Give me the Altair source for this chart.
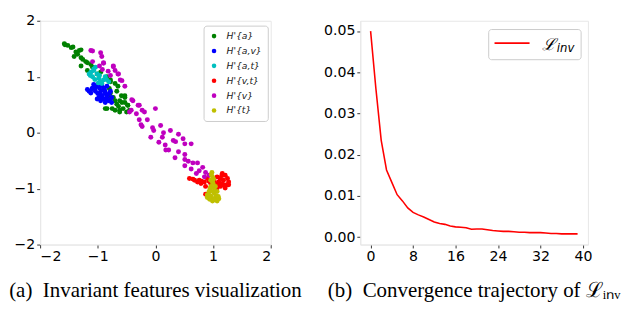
import altair as alt
import pandas as pd

# ---------------- data ----------------
categories = ["H'{a}", "H'{a,v}", "H'{a,t}", "H'{v,t}", "H'{v}", "H'{t}"]
colors = ["#008000", "#0000ff", "#00bfbf", "#ff0000", "#bf00bf", "#bfbf00"]

pts_a = [(-1.58, 1.59), (-1.46, 1.52), (-1.38, 1.44), (-1.29, 1.34), (-1.21, 1.27), (-1.32, 1.47),
         (-1.57, 1.57), (-1.43, 1.53), (-1.29, 1.48), (-1.41, 1.36), (-1.26, 1.31), (-1.18, 1.25),
         (-1.29, 1.19), (-1.09, 1.17), (-1.18, 1.11), (-1.01, 1.05), (-0.84, 1.00), (-0.78, 0.91),
         (-0.70, 0.88), (-0.67, 0.74), (-0.78, 0.71), (-0.73, 0.63), (-0.59, 0.66), (-0.62, 0.57),
         (-0.53, 0.54), (-0.67, 0.51), (-0.48, 0.49), (-0.84, 0.43), (-0.70, 0.40), (-0.62, 0.37),
         (-0.50, 0.37), (-0.56, 0.43), (-0.53, 0.63), (-0.78, 0.94), (-0.65, 0.83), (-0.53, 0.66),
         (-0.70, 0.57), (-0.48, 0.49), (-0.62, 0.40), (-0.75, 0.43), (-0.87, 0.43), (-0.45, 0.40),
         (-0.58, 0.54), (-0.82, 0.66), (-0.80, 0.79), (-1.52, 1.56), (-1.35, 1.40), (-1.12, 1.22),
         (-0.95, 1.08), (-0.64, 0.47)]

pts_av = [(-1.18, 0.77), (-1.09, 0.80), (-1.01, 0.83), (-0.93, 0.85), (-0.84, 0.83), (-1.04, 0.74),
          (-0.95, 0.74), (-0.87, 0.71), (-0.78, 0.74), (-0.98, 0.63), (-0.90, 0.60), (-0.81, 0.57),
          (-0.95, 0.57), (-0.76, 0.63), (-1.12, 0.71), (-1.07, 0.86), (-0.90, 0.80), (-0.84, 0.66),
          (-1.01, 0.60), (-0.87, 0.54), (-0.76, 0.54), (-0.95, 0.68), (-1.15, 0.74), (-1.05, 0.80),
          (-0.97, 0.80), (-0.88, 0.76), (-0.80, 0.70), (-0.92, 0.66), (-1.00, 0.70), (-0.85, 0.60),
          (-0.95, 0.60), (-0.78, 0.60), (-1.10, 0.78), (-0.99, 0.86)]

pts_at = [(-1.15, 1.05), (-1.07, 1.11), (-1.09, 1.00), (-0.98, 0.97), (-0.90, 0.94), (-0.81, 0.91),
          (-1.01, 1.05), (-0.95, 0.91), (-1.04, 1.17), (-1.12, 1.08), (-0.87, 1.00), (-0.93, 0.88),
          (-1.13, 1.02), (-1.05, 0.95), (-0.97, 1.02), (-0.85, 0.95), (-0.99, 0.89), (-1.07, 1.14)]

pts_vt = [(0.59, -0.82), (0.68, -0.85), (0.76, -0.85), (0.85, -0.88), (0.79, -0.91), (0.87, -0.96),
          (0.90, -0.82), (0.96, -0.91), (1.07, -0.79), (1.16, -0.73), (1.21, -0.76), (1.27, -0.88),
          (1.24, -0.93), (1.13, -0.96), (1.18, -0.85), (1.10, -0.88), (1.21, -0.99), (1.07, -0.99),
          (0.87, -1.10), (1.16, -0.91), (1.04, -0.91), (0.73, -0.88), (0.65, -0.83), (0.80, -0.87),
          (0.93, -0.87), (1.12, -0.82), (1.25, -0.82), (1.20, -0.94), (1.10, -0.93), (1.15, -0.77),
          (1.27, -0.93), (1.02, -0.86)]

pts_v = [(-1.09, 1.46), (-0.95, 1.43), (-0.93, 1.36), (-0.90, 1.24), (-0.97, 1.19), (-0.73, 1.19),
         (-0.70, 1.11), (-0.64, 1.05), (-0.78, 1.02), (-0.61, 0.94), (-0.53, 0.83), (-0.39, 0.57),
         (-0.28, 0.49), (-0.42, 0.40), (-0.23, 0.40), (-0.33, 0.34), (-0.14, 0.23), (-0.25, 0.14),
         (0.00, 0.43), (-0.05, 0.09), (0.09, 0.13), (-0.03, 0.04), (0.14, 0.00), (0.26, 0.04),
         (-0.08, -0.08), (0.12, -0.08), (0.40, -0.03), (0.31, -0.14), (0.06, -0.17), (0.48, -0.11),
         (0.17, -0.22), (0.62, -0.20), (0.23, -0.31), (0.40, -0.34), (0.51, -0.39), (0.34, -0.45),
         (0.57, -0.51), (0.65, -0.54), (0.73, -0.54), (0.51, -0.59), (0.62, -0.65), (0.76, -0.68),
         (0.71, -0.73), (0.82, -0.62), (0.87, -0.71), (0.93, -0.76), (0.85, -0.79), (0.51, -0.48),
         (-1.12, 1.47), (-0.90, 1.25), (-0.73, 1.18), (-0.82, 1.10), (-0.65, 1.05), (-0.58, 0.93),
         (-0.41, 0.59), (-0.45, 0.37), (-1.09, 1.27), (-0.92, 1.13), (-0.30, 0.49), (-0.19, 0.37),
         (-0.28, 0.23), (-0.23, 0.11), (0.18, -0.31), (0.35, -0.16), (0.51, -0.20)]

pts_t = [(0.98, -0.71), (0.99, -0.79), (0.96, -0.85), (1.00, -0.91), (0.96, -0.96), (1.02, -0.99),
         (0.93, -1.05), (1.02, -1.08), (1.07, -1.05), (0.96, -1.13), (0.90, -1.16), (1.04, -1.16),
         (1.10, -1.18), (0.99, -1.22), (1.07, -1.22), (0.90, -1.11), (0.99, -0.88), (1.04, -0.96),
         (0.97, -0.75), (1.01, -0.83), (0.95, -1.00), (1.00, -1.05), (0.93, -1.12), (1.05, -1.13),
         (0.97, -1.18), (1.09, -1.14), (1.02, -1.20), (0.94, -1.19)]

scatter_ticks = [-2, -1, 0, 1, 2]

epochs = list(range(40))
loss = [0.0500, 0.0360, 0.0235, 0.0163, 0.0133, 0.0103, 0.0088, 0.0071, 0.0060, 0.0054,
        0.0049, 0.0043, 0.0037, 0.0033, 0.0031, 0.0027, 0.0025, 0.0024, 0.0023, 0.0019,
        0.0020, 0.0020, 0.0018, 0.0016, 0.0015, 0.0014, 0.0014, 0.0013, 0.0012, 0.0012,
        0.0011, 0.0011, 0.0011, 0.0010, 0.0009, 0.0009, 0.0008, 0.0008, 0.0008, 0.0008]
loss_xticks = [0, 8, 16, 24, 32, 40]
loss_yticks = [0.0, 0.01, 0.02, 0.03, 0.04, 0.05]

legend_main = "ℒ"
legend_sub = "inv"
caption_a = "(a)\u00a0\u00a0Invariant features visualization"
caption_b = "(b)\u00a0\u00a0Convergence trajectory of ℒᵢₙᵥ"

# ---------------- tables ----------------
rows = []
for cat, pts in zip(categories, [pts_a, pts_av, pts_at, pts_vt, pts_v, pts_t]):
    for (px, py) in pts:
        rows.append({"x": px, "y": py, "group": cat, "idx": len(rows)})
df_sc = pd.DataFrame(rows)
df_loss = pd.DataFrame({"epoch": epochs, "loss": loss})

W1, H1 = 237, 230
W2, H2 = 234, 230

cap_title = dict(orient="bottom", font="Liberation Serif", fontSize=21.5,
                 fontWeight="normal", color="black", offset=18)

# ---------------- left panel ----------------
left = alt.Chart(df_sc).mark_circle(size=26, opacity=1).encode(
    x=alt.X("x:Q", scale=alt.Scale(domain=[-2, 2], nice=False),
            axis=alt.Axis(values=scatter_ticks, title=None)),
    y=alt.Y("y:Q", scale=alt.Scale(domain=[-2, 2], nice=False),
            axis=alt.Axis(values=scatter_ticks, title=None)),
    color=alt.Color("group:N",
                    scale=alt.Scale(domain=categories, range=colors),
                    legend=alt.Legend(title=None, orient="none", legendX=168, legendY=5,
                                      symbolType="circle", symbolSize=22,
                                      labelFont="DejaVu Sans", labelFontStyle="italic",
                                      labelFontSize=9.5, labelColor="#222",
                                      rowPadding=4.3, padding=6, labelOffset=8,
                                      strokeColor="#cccccc", fillColor="white",
                                      cornerRadius=3)),
    order=alt.Order("idx:Q"),
).properties(width=W1, height=H1, title=alt.TitleParams(caption_a, **cap_title))

# ---------------- right panel ----------------
line = alt.Chart(df_loss).mark_line(color="#ff0000", strokeWidth=1.6).encode(
    x=alt.X("epoch:Q", scale=alt.Scale(domain=[-1.95, 40.95], nice=False),
            axis=alt.Axis(values=loss_xticks, title=None)),
    y=alt.Y("loss:Q", scale=alt.Scale(domain=[-0.0018, 0.0525], nice=False),
            axis=alt.Axis(values=loss_yticks, format=".2f", title=None)),
)

one = pd.DataFrame({"k": [0]})
leg_box = alt.Chart(one).mark_rect(fill="white", stroke="#cccccc", cornerRadius=3).encode(
    x=alt.value(132), x2=alt.value(227), y=alt.value(9), y2=alt.value(40))
leg_line = alt.Chart(one).mark_rule(color="#ff0000", strokeWidth=1.6).encode(
    x=alt.value(138), x2=alt.value(174), y=alt.value(23))
leg_l = alt.Chart(one).mark_text(text=legend_main, font="DejaVu Serif", fontStyle="italic",
                                 fontSize=17, align="left", baseline="alphabetic",
                                 color="black").encode(x=alt.value(187), y=alt.value(30))
leg_s = alt.Chart(one).mark_text(text=legend_sub, font="DejaVu Sans", fontStyle="italic",
                                 fontSize=12, align="left", baseline="alphabetic",
                                 color="black").encode(x=alt.value(202), y=alt.value(32))

right = alt.layer(line, leg_box, leg_line, leg_l, leg_s).properties(
    width=W2, height=H2, title=alt.TitleParams(caption_b, **cap_title))

chart = alt.hconcat(left, right, spacing=92, bounds="flush").properties(
    padding={"left": 0, "top": 0, "right": 0, "bottom": 0}
).configure_view(stroke="#e6e6e6").configure_axis(
    grid=False, labelFont="DejaVu Sans", labelFontSize=14.5, labelColor="black",
    tickColor="#333333", tickSize=3.5, labelPadding=2,
    domainColor="#e6e6e6",
)

chart.save("out.html", embed_options={"renderer": "svg", "actions": False})
